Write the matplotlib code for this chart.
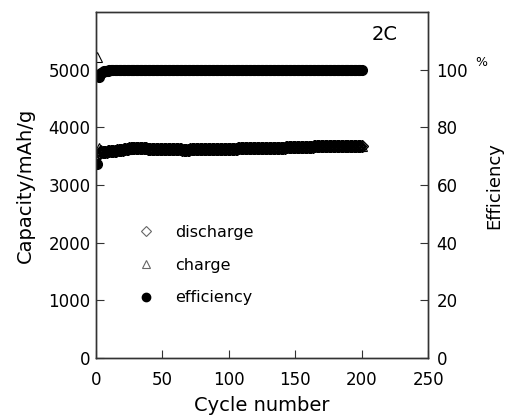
import numpy as np
import matplotlib.pyplot as plt

DPI = 100
FIGSIZE = (5.05, 4.16)
FONTSIZE_TICKS = 12
FONTSIZE_LABELS = 14

cycles = list(range(1, 201))

discharge = [
    3520, 3555, 3565, 3570, 3575, 3578, 3580, 3582, 3585, 3588,
    3590, 3592, 3595, 3598, 3600, 3603, 3606, 3610, 3613, 3617,
    3620, 3624, 3628, 3632, 3636, 3640, 3643, 3646, 3648, 3650,
    3650, 3649, 3647, 3645, 3642, 3640, 3638, 3636, 3634, 3632,
    3630, 3629, 3628, 3627, 3626, 3625, 3624, 3624, 3623, 3623,
    3622, 3622, 3621, 3621, 3620, 3620, 3620, 3619, 3619, 3619,
    3618, 3618, 3618, 3618, 3617, 3617, 3617, 3617, 3617, 3617,
    3618, 3618, 3618, 3619, 3619, 3619, 3620, 3620, 3621, 3621,
    3622, 3622, 3623, 3623, 3624, 3624, 3625, 3625, 3626, 3626,
    3627, 3627, 3628, 3628, 3629, 3629, 3630, 3630, 3631, 3631,
    3632, 3632, 3633, 3633, 3634, 3634, 3635, 3635, 3636, 3636,
    3637, 3637, 3638, 3638, 3639, 3639, 3640, 3640, 3641, 3641,
    3642, 3642, 3643, 3643, 3644, 3644, 3645, 3645, 3646, 3646,
    3647, 3647, 3648, 3648, 3649, 3649, 3650, 3650, 3651, 3651,
    3652, 3652, 3653, 3653, 3654, 3654, 3655, 3655, 3656, 3656,
    3657, 3658, 3659, 3660, 3661, 3662, 3663, 3664, 3665, 3666,
    3667, 3668, 3669, 3670, 3671, 3672, 3673, 3674, 3675, 3676,
    3677, 3678, 3679, 3680, 3680, 3681, 3681, 3682, 3682, 3682,
    3682, 3682, 3681, 3681, 3680, 3680, 3679, 3679, 3678, 3678,
    3677, 3677, 3676, 3676, 3675, 3675, 3674, 3674, 3673, 3672,
]

charge = [
    5225, 3642, 3615, 3606, 3600, 3596, 3594, 3593, 3595, 3596,
    3597, 3599, 3602, 3605, 3607, 3610, 3612, 3616, 3619, 3623,
    3626, 3630, 3634, 3638, 3642, 3645, 3648, 3651, 3653, 3655,
    3655, 3654, 3652, 3650, 3647, 3645, 3643, 3641, 3639, 3637,
    3635, 3634, 3633, 3632, 3631, 3630, 3629, 3629, 3628, 3628,
    3627, 3627, 3626, 3626, 3625, 3625, 3625, 3624, 3624, 3624,
    3623, 3623, 3623, 3623, 3622, 3622, 3622, 3622, 3622, 3622,
    3623, 3623, 3623, 3624, 3624, 3624, 3625, 3625, 3626, 3626,
    3627, 3627, 3628, 3628, 3629, 3629, 3630, 3630, 3631, 3631,
    3632, 3632, 3633, 3633, 3634, 3634, 3635, 3635, 3636, 3636,
    3637, 3637, 3638, 3638, 3639, 3639, 3640, 3640, 3641, 3641,
    3642, 3642, 3643, 3643, 3644, 3644, 3645, 3645, 3646, 3646,
    3647, 3647, 3648, 3648, 3649, 3649, 3650, 3650, 3651, 3651,
    3652, 3652, 3653, 3653, 3654, 3654, 3655, 3655, 3656, 3656,
    3657, 3657, 3658, 3658, 3659, 3659, 3660, 3660, 3661, 3661,
    3662, 3663, 3664, 3665, 3666, 3667, 3668, 3669, 3670, 3671,
    3672, 3673, 3674, 3675, 3676, 3677, 3678, 3679, 3680, 3681,
    3682, 3683, 3684, 3685, 3685, 3686, 3686, 3687, 3687, 3687,
    3687, 3687, 3686, 3686, 3685, 3685, 3684, 3684, 3683, 3683,
    3682, 3682, 3681, 3681, 3680, 3680, 3679, 3679, 3678, 3677,
]

efficiency = [
    67.4, 97.6, 98.6, 99.0, 99.3, 99.5, 99.6, 99.7, 99.7, 99.8,
    99.8, 99.8, 99.8, 99.8, 99.9, 99.9, 99.9, 99.9, 99.9, 99.9,
    99.9, 99.9, 99.9, 99.9, 99.9, 99.9, 99.9, 99.9, 99.9, 99.9,
    99.9, 99.9, 99.9, 99.9, 99.9, 99.9, 99.9, 99.9, 99.9, 99.9,
    99.9, 99.9, 99.9, 99.9, 99.9, 99.9, 99.9, 99.9, 99.9, 99.9,
    99.9, 99.9, 99.9, 99.9, 99.9, 99.9, 99.9, 99.9, 99.9, 99.9,
    99.9, 99.9, 99.9, 99.9, 99.9, 99.9, 99.9, 99.9, 99.9, 99.9,
    99.9, 99.9, 99.9, 99.9, 99.9, 99.9, 99.9, 99.9, 99.9, 99.9,
    99.9, 99.9, 99.9, 99.9, 99.9, 99.9, 99.9, 99.9, 99.9, 99.9,
    99.9, 99.9, 99.9, 99.9, 99.9, 99.9, 99.9, 99.9, 99.9, 99.9,
    99.9, 99.9, 99.9, 99.9, 99.9, 99.9, 99.9, 99.9, 99.9, 99.9,
    99.9, 99.9, 99.9, 99.9, 99.9, 99.9, 99.9, 99.9, 99.9, 99.9,
    99.9, 99.9, 99.9, 99.9, 99.9, 99.9, 99.9, 99.9, 99.9, 99.9,
    99.9, 99.9, 99.9, 99.9, 99.9, 99.9, 99.9, 99.9, 99.9, 99.9,
    99.9, 99.9, 99.9, 99.9, 99.9, 99.9, 99.9, 99.9, 99.9, 99.9,
    99.9, 99.9, 99.9, 99.9, 99.9, 99.9, 99.9, 99.9, 99.9, 99.9,
    99.9, 99.9, 99.9, 99.9, 99.9, 99.9, 99.9, 99.9, 99.9, 99.9,
    99.9, 99.9, 99.9, 99.9, 99.9, 99.9, 99.9, 99.9, 99.9, 99.9,
    99.9, 99.9, 99.9, 99.9, 99.9, 99.9, 99.9, 99.9, 99.9, 99.9,
    99.9, 99.9, 99.9, 99.9, 99.9, 99.9, 99.9, 99.9, 99.9, 99.9,
]

x_ticks = [0, 50, 100, 150, 200, 250]
cap_ticks = [0, 1000, 2000, 3000, 4000, 5000]
eff_ticks = [0, 20, 40, 60, 80, 100]

plt.rcParams['font.family'] = ['DejaVu Sans']
plt.rcParams['font.size'] = FONTSIZE_TICKS

fig = plt.figure(dpi=DPI, figsize=FIGSIZE)
ax = fig.add_axes([0.190, 0.139, 0.658, 0.832])
ax2 = ax.twinx()

ax.plot(cycles, discharge, ls='none', marker='D', ms=6.5, mfc='none',
        mec='black', mew=1.0)
ax.plot(cycles, charge, ls='none', marker='^', ms=7, mfc='none',
        mec='black', mew=0.8)
ax2.plot(cycles, efficiency, ls='none', marker='o', ms=7, mfc='black',
         mec='black')

ax.set_xlim(0, 250)
ax.set_ylim(0, 6000)
ax2.set_ylim(0, 120)
ax.set_xticks(x_ticks)
ax.set_yticks(cap_ticks)
ax2.set_yticks(eff_ticks)

for a in (ax, ax2):
    for s in a.spines.values():
        s.set_color('#333333')
        s.set_linewidth(1.0)
ax.tick_params(direction='in', length=6, width=0.8, color='#333333',
               top=False, right=False)
ax.tick_params(axis='x', pad=9)
ax.tick_params(axis='y', pad=4)
ax2.tick_params(direction='in', length=6, width=0.8, color='#333333', pad=6)

ax.set_xlabel('Cycle number', fontsize=FONTSIZE_LABELS, labelpad=5)
ax.set_ylabel('Capacity/mAh/g', fontsize=FONTSIZE_LABELS, labelpad=10)
ax2.set_ylabel('Efficiency', fontsize=13, labelpad=12)

ax.text(0.87, 0.936, '2C', transform=ax.transAxes, ha='center',
        va='center', fontsize=14)
ax2.text(1.16, 0.853, '%', transform=ax2.transAxes, ha='center',
         va='center', fontsize=9)

# legend with grey marker outlines, no frame
handles = [
    plt.Line2D([], [], ls='none', marker='D', ms=5, mfc='none', mec='#666666', mew=0.8),
    plt.Line2D([], [], ls='none', marker='^', ms=6, mfc='none', mec='#666666', mew=0.8),
    plt.Line2D([], [], ls='none', marker='o', ms=6, mfc='black', mec='black'),
]
ax.legend(handles, ['discharge', 'charge', 'efficiency'], loc='center left',
          bbox_to_anchor=(0.06, 0.269), frameon=False, fontsize=11.5,
          handletextpad=0.8, labelspacing=1.1)

plt.savefig('out.png', dpi=DPI)
